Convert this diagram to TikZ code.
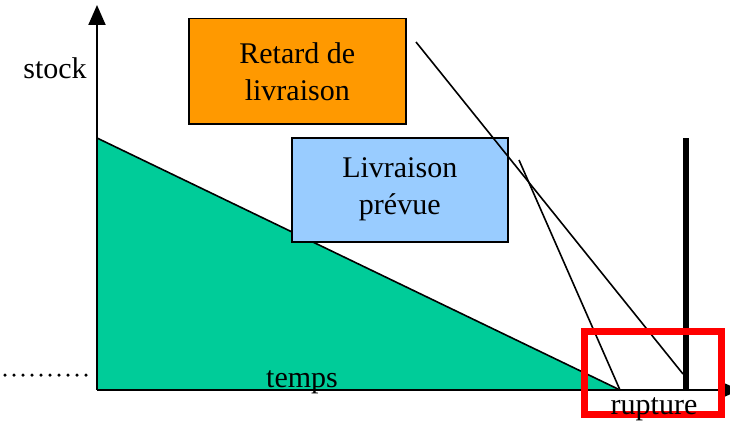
\documentclass[tikz,border=0pt]{standalone}
\usepackage{fontspec}
\setmainfont{Liberation Serif}
\usetikzlibrary{arrows.meta}

\definecolor{stockgreen}{HTML}{00CC99}
\definecolor{retardorange}{HTML}{FF9900}
\definecolor{prevublue}{HTML}{99CCFF}

\begin{document}
\begin{tikzpicture}[
        x=1pt, y=-1pt,
        >={Triangle[width=17pt,length=20pt]},
        lbl/.style={font=\fontsize{30}{37}\selectfont, inner sep=0pt},
        box/.style={draw, line width=1.5pt, align=center, anchor=north west,
                    font=\fontsize{30}{37}\selectfont, inner sep=0pt},
        thin line/.style={line width=1.6pt}
        ]
            \useasboundingbox (0, 0) rectangle (730, 425);
            
            % Stock
            \fill[stockgreen] (97, 138) -- (620, 390) -- (97, 390) -- cycle;
            \draw[thin line] (97, 138) -- (620, 390);
            
            % Axes
            \draw[->, line width=2pt] (97, 390) -- (97, 5);
            \draw[->, line width=2pt] (97, 390) -- (740, 390);
            \draw[line width=3.5pt, dash pattern=on 0pt off 9pt, line cap=round] (5, 375) -- (93, 375);
            \node[lbl] (stock) at (55, 68) {stock};
            \node[lbl] (temps) at (302, 382) {temps};
            
            % Boxes
            \node[box, fill=retardorange, minimum width=217pt, minimum height=105pt] (retard) at (188, 18) {Retard de\\livraison};
            \node[box, fill=prevublue, minimum width=216pt, minimum height=104pt] (prevue) at (291, 137) {Livraison\\prévue};
            
            % Lines
            \coordinate (r0) at (416, 42);
            \coordinate (r1) at (683, 374);
            \coordinate (p0) at (519, 160);
            \coordinate (p1) at (620, 390);
            \draw[thin line] (r0) -- (r1);
            \draw[thin line] (p0) -- (p1);
            
            % Rupture
            \draw[line width=6pt] (686, 138) -- (686, 390);
            \draw[red, line width=7pt] (584, 331) rectangle (721, 414);
            \node[lbl] (rupture) at (654, 409) {rupture};
        \end{tikzpicture}
\end{document}
